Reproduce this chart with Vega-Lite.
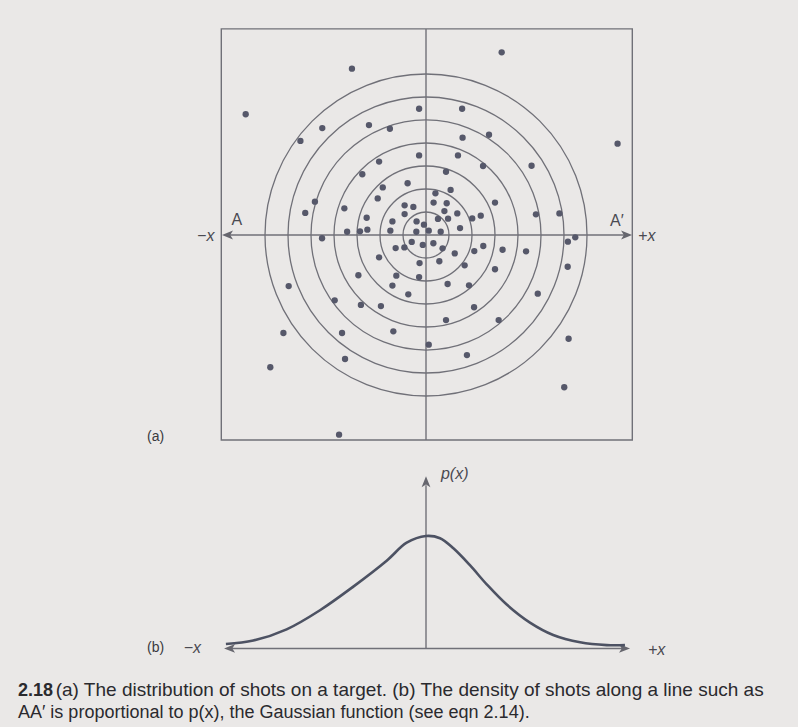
{
  "$schema": "https://vega.github.io/schema/vega-lite/v6.json",
  "width": 798,
  "height": 727,
  "autosize": {"type": "fit", "contains": "padding"},
  "padding": 0,
  "background": "#eae8e7",
  "config": {"view": {"stroke": null}},
  "data": {"values": [{}]},
  "datasets": {
    "rings": [{"ring": 1}, {"ring": 2}, {"ring": 3}, {"ring": 4}, {"ring": 5}, {"ring": 6}, {"ring": 7}],
    "shots": [
      {"x": 3.29, "y": 7.94}, {"x": -3.22, "y": 7.23}, {"x": -7.84, "y": 5.25}, {"x": 8.33, "y": 3.97},
      {"x": -0.30, "y": 5.49}, {"x": 1.57, "y": 5.49}, {"x": -4.51, "y": 4.65}, {"x": -2.48, "y": 4.78},
      {"x": -1.57, "y": 4.62}, {"x": 2.74, "y": 4.36}, {"x": -5.46, "y": 4.09}, {"x": 1.59, "y": 4.23},
      {"x": -0.30, "y": 3.46}, {"x": 1.39, "y": 3.46}, {"x": -2.04, "y": 3.19}, {"x": 2.48, "y": 3.00},
      {"x": 4.59, "y": 3.01}, {"x": -2.77, "y": 2.64}, {"x": 0.87, "y": 2.75}, {"x": -0.80, "y": 2.25},
      {"x": -1.88, "y": 2.07}, {"x": 1.07, "y": 1.96}, {"x": 0.41, "y": 1.81}, {"x": -2.10, "y": 1.59},
      {"x": -4.83, "y": 1.45}, {"x": 3.00, "y": 1.41}, {"x": -0.93, "y": 1.29}, {"x": -0.55, "y": 1.22},
      {"x": 0.33, "y": 1.41}, {"x": 0.90, "y": 1.38}, {"x": -3.55, "y": 1.16}, {"x": -5.25, "y": 0.96},
      {"x": -0.93, "y": 0.91}, {"x": 0.80, "y": 1.04}, {"x": 4.78, "y": 0.90}, {"x": 5.80, "y": 0.94},
      {"x": -2.58, "y": 0.75}, {"x": -1.46, "y": 0.59}, {"x": -0.41, "y": 0.59}, {"x": -0.09, "y": 0.45},
      {"x": 0.52, "y": 0.70}, {"x": 0.96, "y": 0.71}, {"x": 1.36, "y": 0.94}, {"x": 2.01, "y": 0.72},
      {"x": 2.38, "y": 0.84}, {"x": 1.48, "y": 0.30}, {"x": -3.43, "y": 0.14}, {"x": -2.87, "y": 0.16},
      {"x": -2.55, "y": 0.23}, {"x": -1.55, "y": 0.19}, {"x": -0.42, "y": 0.14}, {"x": 0.12, "y": 0.19},
      {"x": 0.64, "y": 0.14}, {"x": -4.52, "y": -0.14}, {"x": 6.17, "y": -0.29}, {"x": 6.49, "y": -0.10},
      {"x": -0.62, "y": -0.30}, {"x": -0.14, "y": -0.43}, {"x": 0.32, "y": -0.36}, {"x": -1.32, "y": -0.57},
      {"x": -0.94, "y": -0.54}, {"x": 0.72, "y": -0.58}, {"x": 1.25, "y": -0.80}, {"x": 2.10, "y": -0.70},
      {"x": 2.49, "y": -0.48}, {"x": 3.33, "y": -0.64}, {"x": 4.35, "y": -0.71}, {"x": -2.04, "y": -0.97},
      {"x": -0.28, "y": -1.22}, {"x": 0.58, "y": -1.14}, {"x": 1.68, "y": -1.32}, {"x": 3.00, "y": -1.49},
      {"x": 6.16, "y": -1.38}, {"x": -2.94, "y": -1.75}, {"x": -1.29, "y": -1.77}, {"x": -0.30, "y": -1.83},
      {"x": 0.94, "y": -2.13}, {"x": 1.87, "y": -2.19}, {"x": -5.97, "y": -2.22}, {"x": -1.46, "y": -2.20},
      {"x": -0.77, "y": -2.58}, {"x": 4.86, "y": -2.55}, {"x": -3.97, "y": -2.84}, {"x": -2.83, "y": -3.04},
      {"x": -1.96, "y": -3.09}, {"x": 2.09, "y": -3.14}, {"x": 0.87, "y": -3.70}, {"x": 3.16, "y": -3.70},
      {"x": -6.20, "y": -4.26}, {"x": -3.65, "y": -4.26}, {"x": -1.42, "y": -4.19}, {"x": 6.20, "y": -4.51},
      {"x": 0.12, "y": -4.77}, {"x": 1.78, "y": -5.22}, {"x": -3.52, "y": -5.39}, {"x": -6.77, "y": -5.75},
      {"x": 6.01, "y": -6.62}, {"x": -3.78, "y": -8.68}
    ],
    "density": [
      {"x": -8.70, "p": 0.04}, {"x": -7.51, "p": 0.07}, {"x": -6.06, "p": 0.17}, {"x": -4.61, "p": 0.34},
      {"x": -3.16, "p": 0.55}, {"x": -1.71, "p": 0.78}, {"x": -0.84, "p": 0.94}, {"x": 0.0, "p": 1.0},
      {"x": 0.61, "p": 0.98}, {"x": 1.19, "p": 0.89}, {"x": 1.91, "p": 0.74}, {"x": 2.64, "p": 0.57},
      {"x": 3.51, "p": 0.39}, {"x": 4.52, "p": 0.23}, {"x": 5.53, "p": 0.12}, {"x": 6.70, "p": 0.055},
      {"x": 7.86, "p": 0.03}, {"x": 8.65, "p": 0.03}
    ]
  },
  "resolve": {"scale": {"y": "independent"}},
  "layer": [
    {
      "layer": [
        {
          "mark": {"type": "rect", "fillOpacity": 0, "stroke": "#707078", "strokeWidth": 1.4},
          "encoding": {
            "x": {"datum": -8.9, "type": "quantitative", "scale": {"domain": [-18.522, 16.174], "nice": false, "zero": false}, "axis": null},
            "x2": {"datum": 8.97},
            "y": {"datum": -8.91, "type": "quantitative", "scale": {"domain": [-21.391, 10.217], "nice": false, "zero": false}, "axis": null},
            "y2": {"datum": 8.96}
          }
        },
        {
          "mark": {"type": "rule", "stroke": "#707078", "strokeWidth": 1.4},
          "encoding": {
            "x": {"datum": 0, "type": "quantitative", "scale": {"domain": [-18.522, 16.174], "nice": false, "zero": false}, "axis": null},
            "y": {"datum": -8.91, "type": "quantitative", "scale": {"domain": [-21.391, 10.217], "nice": false, "zero": false}, "axis": null},
            "y2": {"datum": 8.96}
          }
        },
        {
          "mark": {"type": "rule", "stroke": "#707078", "strokeWidth": 1.4},
          "encoding": {
            "x": {"datum": -8.6, "type": "quantitative", "scale": {"domain": [-18.522, 16.174], "nice": false, "zero": false}, "axis": null},
            "x2": {"datum": 8.7},
            "y": {"datum": 0, "type": "quantitative", "scale": {"domain": [-21.391, 10.217], "nice": false, "zero": false}, "axis": null}
          }
        },
        {
          "data": {"name": "rings"},
          "mark": {"type": "point", "shape": "circle", "filled": false, "stroke": "#707078", "strokeWidth": 1.3, "opacity": 1},
          "encoding": {
            "x": {"datum": 0, "type": "quantitative", "scale": {"domain": [-18.522, 16.174], "nice": false, "zero": false}, "axis": null},
            "y": {"datum": 0, "type": "quantitative", "scale": {"domain": [-21.391, 10.217], "nice": false, "zero": false}, "axis": null},
            "size": {"field": "ring", "type": "quantitative", "scale": {"type": "pow", "exponent": 2, "domain": [0, 7], "range": [0, 103684]}, "legend": null}
          }
        },
        {
          "mark": {"type": "point", "shape": "M0,0L2,-0.8L1.5,0L2,0.8Z", "filled": true, "fill": "#66666e", "size": 121, "opacity": 1},
          "encoding": {
            "x": {"datum": -8.87, "type": "quantitative", "scale": {"domain": [-18.522, 16.174], "nice": false, "zero": false}, "axis": null},
            "y": {"datum": 0, "type": "quantitative", "scale": {"domain": [-21.391, 10.217], "nice": false, "zero": false}, "axis": null}
          }
        },
        {
          "mark": {"type": "point", "shape": "M0,0L-2,-0.8L-1.5,0L-2,0.8Z", "filled": true, "fill": "#66666e", "size": 121, "opacity": 1},
          "encoding": {
            "x": {"datum": 8.96, "type": "quantitative", "scale": {"domain": [-18.522, 16.174], "nice": false, "zero": false}, "axis": null},
            "y": {"datum": 0, "type": "quantitative", "scale": {"domain": [-21.391, 10.217], "nice": false, "zero": false}, "axis": null}
          }
        },
        {
          "data": {"name": "shots"},
          "mark": {"type": "point", "shape": "circle", "filled": true, "fill": "#56586a", "size": 40, "opacity": 1},
          "encoding": {
            "x": {"field": "x", "type": "quantitative", "scale": {"domain": [-18.522, 16.174], "nice": false, "zero": false}, "axis": null},
            "y": {"field": "y", "type": "quantitative", "scale": {"domain": [-21.391, 10.217], "nice": false, "zero": false}, "axis": null}
          }
        },
        {
          "mark": {"type": "text", "text": "−x", "font": "Liberation Sans", "fontSize": 16, "fontStyle": "italic", "align": "right", "baseline": "middle", "fill": "#4a4a52"},
          "encoding": {
            "x": {"datum": -9.2, "type": "quantitative", "scale": {"domain": [-18.522, 16.174], "nice": false, "zero": false}, "axis": null},
            "y": {"datum": -0.05, "type": "quantitative", "scale": {"domain": [-21.391, 10.217], "nice": false, "zero": false}, "axis": null}
          }
        },
        {
          "mark": {"type": "text", "text": "A", "font": "Liberation Sans", "fontSize": 16, "align": "center", "baseline": "middle", "fill": "#4a4a52"},
          "encoding": {
            "x": {"datum": -8.22, "type": "quantitative", "scale": {"domain": [-18.522, 16.174], "nice": false, "zero": false}, "axis": null},
            "y": {"datum": 0.65, "type": "quantitative", "scale": {"domain": [-21.391, 10.217], "nice": false, "zero": false}, "axis": null}
          }
        },
        {
          "mark": {"type": "text", "text": "A′", "font": "Liberation Sans", "fontSize": 16, "align": "center", "baseline": "middle", "fill": "#4a4a52"},
          "encoding": {
            "x": {"datum": 8.3, "type": "quantitative", "scale": {"domain": [-18.522, 16.174], "nice": false, "zero": false}, "axis": null},
            "y": {"datum": 0.61, "type": "quantitative", "scale": {"domain": [-21.391, 10.217], "nice": false, "zero": false}, "axis": null}
          }
        },
        {
          "mark": {"type": "text", "text": "+x", "font": "Liberation Sans", "fontSize": 16, "fontStyle": "italic", "align": "left", "baseline": "middle", "fill": "#4a4a52"},
          "encoding": {
            "x": {"datum": 9.22, "type": "quantitative", "scale": {"domain": [-18.522, 16.174], "nice": false, "zero": false}, "axis": null},
            "y": {"datum": -0.05, "type": "quantitative", "scale": {"domain": [-21.391, 10.217], "nice": false, "zero": false}, "axis": null}
          }
        },
        {
          "mark": {"type": "text", "text": "(a)", "font": "Liberation Sans", "fontSize": 14, "align": "left", "baseline": "middle", "fill": "#3a3a40"},
          "encoding": {
            "x": {"datum": -12.13, "type": "quantitative", "scale": {"domain": [-18.522, 16.174], "nice": false, "zero": false}, "axis": null},
            "y": {"datum": -8.78, "type": "quantitative", "scale": {"domain": [-21.391, 10.217], "nice": false, "zero": false}, "axis": null}
          }
        }
      ]
    },
    {
      "layer": [
        {
          "mark": {"type": "rule", "stroke": "#707078", "strokeWidth": 1.6},
          "encoding": {
            "x": {"datum": -8.5, "type": "quantitative", "scale": {"domain": [-18.522, 16.174], "nice": false, "zero": false}, "axis": null},
            "x2": {"datum": 8.6},
            "y": {"datum": 0, "type": "quantitative", "scale": {"domain": [-0.698, 5.764], "nice": false, "zero": false}, "axis": null}
          }
        },
        {
          "mark": {"type": "rule", "stroke": "#707078", "strokeWidth": 1.4},
          "encoding": {
            "x": {"datum": 0, "type": "quantitative", "scale": {"domain": [-18.522, 16.174], "nice": false, "zero": false}, "axis": null},
            "y": {"datum": 0, "type": "quantitative", "scale": {"domain": [-0.698, 5.764], "nice": false, "zero": false}, "axis": null},
            "y2": {"datum": 1.45}
          }
        },
        {
          "mark": {"type": "point", "shape": "M0,0L2,-0.8L1.5,0L2,0.8Z", "filled": true, "fill": "#66666e", "size": 121, "opacity": 1},
          "encoding": {
            "x": {"datum": -8.78, "type": "quantitative", "scale": {"domain": [-18.522, 16.174], "nice": false, "zero": false}, "axis": null},
            "y": {"datum": 0, "type": "quantitative", "scale": {"domain": [-0.698, 5.764], "nice": false, "zero": false}, "axis": null}
          }
        },
        {
          "mark": {"type": "point", "shape": "M0,0L-2,-0.8L-1.5,0L-2,0.8Z", "filled": true, "fill": "#66666e", "size": 121, "opacity": 1},
          "encoding": {
            "x": {"datum": 8.87, "type": "quantitative", "scale": {"domain": [-18.522, 16.174], "nice": false, "zero": false}, "axis": null},
            "y": {"datum": 0, "type": "quantitative", "scale": {"domain": [-0.698, 5.764], "nice": false, "zero": false}, "axis": null}
          }
        },
        {
          "mark": {"type": "point", "shape": "M0,0L-0.8,2L0,1.5L0.8,2Z", "filled": true, "fill": "#66666e", "size": 121, "opacity": 1},
          "encoding": {
            "x": {"datum": 0, "type": "quantitative", "scale": {"domain": [-18.522, 16.174], "nice": false, "zero": false}, "axis": null},
            "y": {"datum": 1.53, "type": "quantitative", "scale": {"domain": [-0.698, 5.764], "nice": false, "zero": false}, "axis": null}
          }
        },
        {
          "data": {"name": "density"},
          "mark": {"type": "line", "interpolate": "catmull-rom", "stroke": "#4d5263", "strokeWidth": 2.6},
          "encoding": {
            "x": {"field": "x", "type": "quantitative", "scale": {"domain": [-18.522, 16.174], "nice": false, "zero": false}, "axis": null},
            "y": {"field": "p", "type": "quantitative", "scale": {"domain": [-0.698, 5.764], "nice": false, "zero": false}, "axis": null}
          }
        },
        {
          "mark": {"type": "text", "text": "p(x)", "font": "Liberation Sans", "fontSize": 16, "fontStyle": "italic", "align": "left", "baseline": "middle", "fill": "#4a4a52"},
          "encoding": {
            "x": {"datum": 0.65, "type": "quantitative", "scale": {"domain": [-18.522, 16.174], "nice": false, "zero": false}, "axis": null},
            "y": {"datum": 1.55, "type": "quantitative", "scale": {"domain": [-0.698, 5.764], "nice": false, "zero": false}, "axis": null}
          }
        },
        {
          "mark": {"type": "text", "text": "(b)", "font": "Liberation Sans", "fontSize": 14, "align": "left", "baseline": "middle", "fill": "#3a3a40"},
          "encoding": {
            "x": {"datum": -12.13, "type": "quantitative", "scale": {"domain": [-18.522, 16.174], "nice": false, "zero": false}, "axis": null},
            "y": {"datum": 0, "type": "quantitative", "scale": {"domain": [-0.698, 5.764], "nice": false, "zero": false}, "axis": null}
          }
        },
        {
          "mark": {"type": "text", "text": "−x", "font": "Liberation Sans", "fontSize": 16, "fontStyle": "italic", "align": "right", "baseline": "middle", "fill": "#4a4a52"},
          "encoding": {
            "x": {"datum": -9.78, "type": "quantitative", "scale": {"domain": [-18.522, 16.174], "nice": false, "zero": false}, "axis": null},
            "y": {"datum": 0, "type": "quantitative", "scale": {"domain": [-0.698, 5.764], "nice": false, "zero": false}, "axis": null}
          }
        },
        {
          "mark": {"type": "text", "text": "+x", "font": "Liberation Sans", "fontSize": 16, "fontStyle": "italic", "align": "left", "baseline": "middle", "fill": "#4a4a52"},
          "encoding": {
            "x": {"datum": 9.65, "type": "quantitative", "scale": {"domain": [-18.522, 16.174], "nice": false, "zero": false}, "axis": null},
            "y": {"datum": -0.01, "type": "quantitative", "scale": {"domain": [-0.698, 5.764], "nice": false, "zero": false}, "axis": null}
          }
        },
        {
          "mark": {"type": "text", "text": "2.18", "font": "Liberation Sans", "fontSize": 18, "fontWeight": "bold", "align": "left", "baseline": "alphabetic", "fill": "#2a2a2e"},
          "encoding": {
            "x": {"datum": -17.74, "type": "quantitative", "scale": {"domain": [-18.522, 16.174], "nice": false, "zero": false}, "axis": null},
            "y": {"datum": -0.42, "type": "quantitative", "scale": {"domain": [-0.698, 5.764], "nice": false, "zero": false}, "axis": null}
          }
        },
        {
          "mark": {"type": "text", "text": "(a) The distribution of shots on a target. (b) The density of shots along a line such as", "font": "Liberation Sans", "fontSize": 19, "align": "left", "baseline": "alphabetic", "fill": "#2a2a2e"},
          "encoding": {
            "x": {"datum": -16.1, "type": "quantitative", "scale": {"domain": [-18.522, 16.174], "nice": false, "zero": false}, "axis": null},
            "y": {"datum": -0.42, "type": "quantitative", "scale": {"domain": [-0.698, 5.764], "nice": false, "zero": false}, "axis": null}
          }
        },
        {
          "mark": {"type": "text", "text": "AA′ is proportional to p(x), the Gaussian function (see eqn 2.14).", "font": "Liberation Sans", "fontSize": 18, "align": "left", "baseline": "alphabetic", "fill": "#2a2a2e"},
          "encoding": {
            "x": {"datum": -17.74, "type": "quantitative", "scale": {"domain": [-18.522, 16.174], "nice": false, "zero": false}, "axis": null},
            "y": {"datum": -0.62, "type": "quantitative", "scale": {"domain": [-0.698, 5.764], "nice": false, "zero": false}, "axis": null}
          }
        }
      ]
    }
  ]
}
